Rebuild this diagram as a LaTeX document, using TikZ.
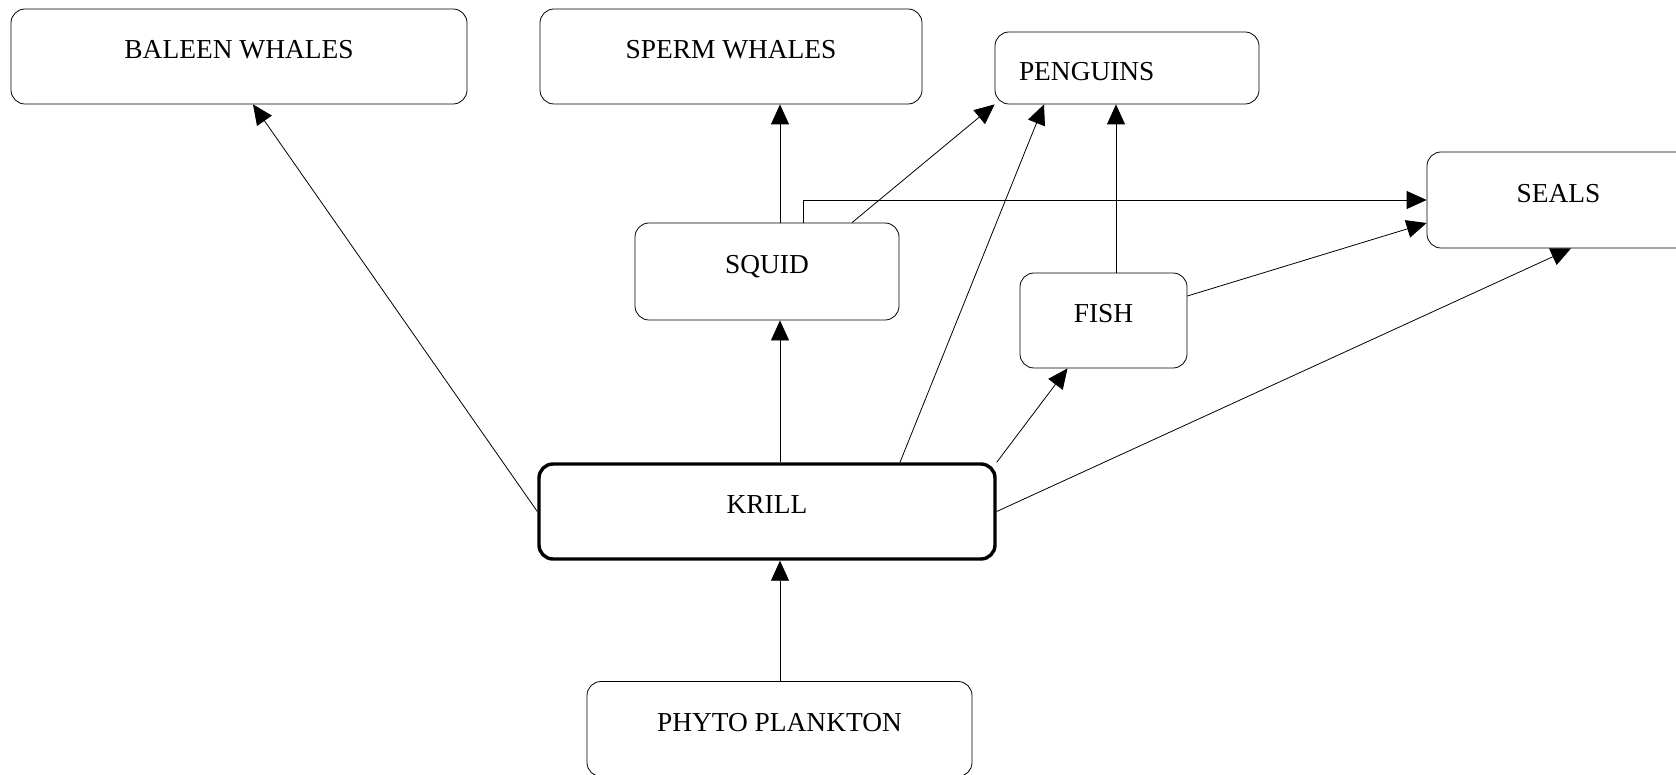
\documentclass[tikz,border=0pt]{standalone}
\usepackage{fontspec}
\setmainfont{Liberation Serif}
\usetikzlibrary{arrows.meta, positioning}
\tikzset{
  ->, >={Triangle[length=10pt,width=9pt]}, line width=0.95pt
}
\tikzset{food box/.style={draw, rounded corners=7pt, inner sep=0pt,
  text height=10pt, text depth=7.6pt, font=\fontsize{13.7}{16}\selectfont}}
\tikzset{main box/.style={food box, line width=1.7pt}}

\begin{document}
\begin{tikzpicture}[x=0.5pt, y=-0.5pt]
\useasboundingbox (0,0) rectangle (1676,775);
\node[food box, minimum width=228pt, minimum height=47.5pt] (baleen) at (239,56.5) {BALEEN WHALES};
\node[food box, minimum width=191pt, minimum height=47.5pt] (sperm) at (731,56.5) {SPERM WHALES};
\node[food box, minimum width=132pt, minimum height=36pt, text height=12.2pt, text depth=0pt,
  inner xsep=12pt, text width=108pt, align=left] (penguins) at (1127,68) {PENGUINS};
\node[food box, minimum width=131.5pt, minimum height=48pt] (seals) at (1558.5,200) {SEALS};
\node[food box, minimum width=132pt, minimum height=48.5pt] (squid) at (767,271.5) {SQUID};
\node[food box, minimum width=83.5pt, minimum height=47.5pt] (fish) at (1103.5,320.5) {FISH};
\node[main box, minimum width=228pt, minimum height=47.5pt] (krill) at (767,511.5) {KRILL};
\node[food box, minimum width=192.5pt, minimum height=47.5pt] (phyto) at (779.5,729) {PHYTO PLANKTON};

\draw ([xshift=0.25pt]phyto.north) -- ([xshift=6.5pt]krill.south);
\draw (krill.west) -- ([xshift=7pt]baleen.south);
\draw ([xshift=6.5pt]krill.north) -- ([xshift=6.5pt]squid.south);
\draw ([xshift=66.5pt]krill.north) -- ([xshift=-41.5pt]penguins.south);
\draw (krill.north east) -- ([xshift=-18pt]fish.south);
\draw (krill.east) -- ([xshift=6.25pt]seals.south);

\draw ([xshift=6.5pt]squid.north) -- ([xshift=24.5pt]sperm.south);
\draw ([xshift=18pt]squid.north) |- (seals.west);
\draw ([xshift=42.5pt]squid.north) -- (penguins.south west);

\draw ([xshift=6.25pt]fish.north) -- ([xshift=-5.5pt]penguins.south);
\draw ([yshift=12.25pt]fish.east) -- ([yshift=-11.5pt]seals.west);
\end{tikzpicture}
\end{document}
